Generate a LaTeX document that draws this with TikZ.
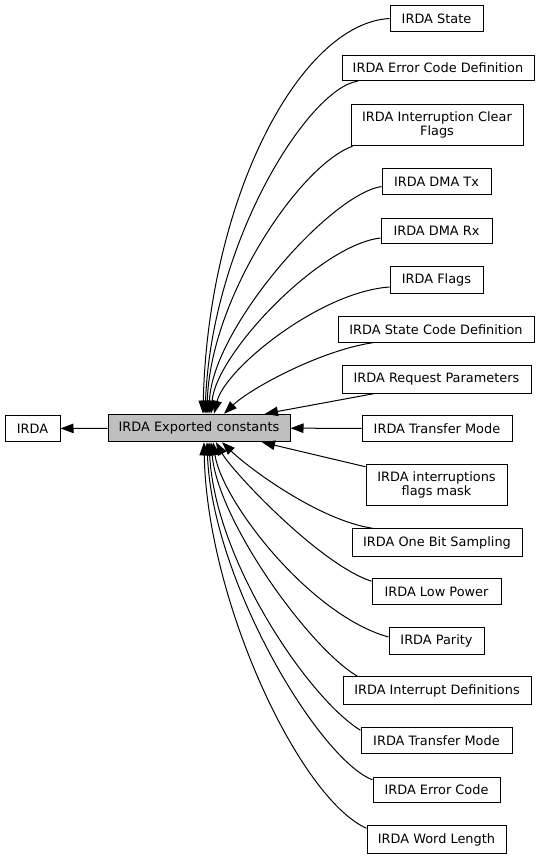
\documentclass[tikz,border=0pt]{standalone}
\usepackage{fontspec}
\setmainfont{DejaVu Sans}
\usetikzlibrary{arrows.meta}

\begin{document}
\begin{tikzpicture}[x=1pt,y=-1pt,
  grp/.style={draw=mycolor000000,fill=white,line width=1pt,inner xsep=4pt,inner ysep=7.5pt,minimum height=25.5pt,align=center,font=\fontsize{12.9pt}{14pt}\selectfont},
  cur/.style={grp,fill=mycolorBFBFBF},
  dep/.style={draw=mycolor000000,line width=1pt,-{Triangle[length=13pt,width=9.5pt]}}]
\definecolor{mycolor000000}{rgb}{0,0,0}
\definecolor{mycolorBFBFBF}{rgb}{0.75,0.75,0.75}
\useasboundingbox (0,0) rectangle (540,857);
\begin{scope}
\node [grp,minimum width=55pt] (irda) at (32.5,428.5) {IRDA};
\node [cur,minimum width=182pt] (ec) at (199,428) {IRDA Exported constants};
\end{scope}
\begin{scope}
\node [grp,minimum width=93pt] (state) at (436.5,18.5) {IRDA State};
\node [grp,minimum width=192pt] (ecdef) at (438,68) {IRDA Error Code Definition};
\node [grp,minimum width=172pt] (clr) at (437,125) {IRDA Interruption Clear\\Flags};
\node [grp,minimum width=109pt] (dmatx) at (436.5,181.5) {IRDA DMA Tx};
\node [grp,minimum width=111pt] (dmarx) at (436.5,231) {IRDA DMA Rx};
\node [grp,minimum width=93pt] (flags) at (436.5,280) {IRDA Flags};
\node [grp,minimum width=196pt] (scdef) at (436,329.5) {IRDA State Code Definition};
\node [grp,minimum width=189pt] (req) at (436.5,379.5) {IRDA Request Parameters};
\node [grp,minimum width=150pt] (tmode) at (437,428.5) {IRDA Transfer Mode};
\node [grp,minimum width=141pt] (itmask) at (436.5,485) {IRDA interruptions\\flags mask};
\node [grp,minimum width=170pt] (onebit) at (437,542.5) {IRDA One Bit Sampling};
\node [grp,minimum width=129pt] (lowpw) at (436.5,591.5) {IRDA Low Power};
\node [grp,minimum width=95pt] (parity) at (436.5,641) {IRDA Parity};
\node [grp,minimum width=188pt] (itdef) at (437,690.5) {IRDA Interrupt Definitions};
\node [grp,minimum width=151pt] (tmodeb) at (436.5,740.5) {IRDA Transfer Mode};
\node [grp,minimum width=127pt] (errcode) at (436.5,790) {IRDA Error Code};
\node [grp,minimum width=139pt] (wordlen) at (436.5,839.5) {IRDA Word Length};
\end{scope}
\begin{scope}
\draw [dep] (ec) -- (irda);
\draw [dep] (state.west) .. controls +(-90,5) and +(5,-215) .. ([xshift=4]ec.north);
\draw [dep] ([xshift=16]ecdef.south west) .. controls +(-48,7) and +(7,-175) .. ([xshift=6]ec.north);
\draw [dep] ([xshift=2]clr.south west) .. controls +(-53,19) and +(3,-115) .. ([xshift=8]ec.north);
\draw [dep] ([yshift=-5]dmatx.west) .. controls +(-52,8) and +(3,-85) .. ([xshift=10]ec.north);
\draw [dep] ([yshift=-7]dmarx.west) .. controls +(-61,7) and +(5,-60) .. ([xshift=12]ec.north);
\draw [dep] ([yshift=-7]flags.west) .. controls +(-70,5) and +(11,-45) .. ([xshift=15]ec.north);
\draw [dep] ([xshift=35]scdef.south west) .. controls +(-53,8) and +(26,-25) .. ([xshift=25]ec.north);
\draw [dep] ([xshift=33]req.south west) -- ([xshift=66]ec.north);
\draw [dep] (tmode) -- (ec);
\draw [dep] ([yshift=-3]itmask.north west) -- ([xshift=63]ec.south);
\draw [dep] ([xshift=21]onebit.north west) .. controls +(-53,-8) and +(28,27) .. ([xshift=23]ec.south);
\draw [dep] ([yshift=-3]lowpw.north west) .. controls +(-52,-17) and +(16,29) .. ([xshift=17]ec.south);
\draw [dep] ([yshift=4]parity.west) .. controls +(-79,-22) and +(9,59) .. ([xshift=14]ec.south);
\draw [dep] ([xshift=15]itdef.north west) .. controls +(-48,-28) and +(7,79) .. ([xshift=12]ec.south);
\draw [dep] ([yshift=-3]tmodeb.north west) .. controls +(-51,-31) and +(6,119) .. ([xshift=10]ec.south);
\draw [dep] ([yshift=-3]errcode.north west) .. controls +(-53,-20) and +(5,139) .. ([xshift=8]ec.south);
\draw [dep] ([yshift=-3]wordlen.north west) .. controls +(-67,-30) and +(3,159) .. ([xshift=5]ec.south);
\end{scope}
\end{tikzpicture}
\end{document}
